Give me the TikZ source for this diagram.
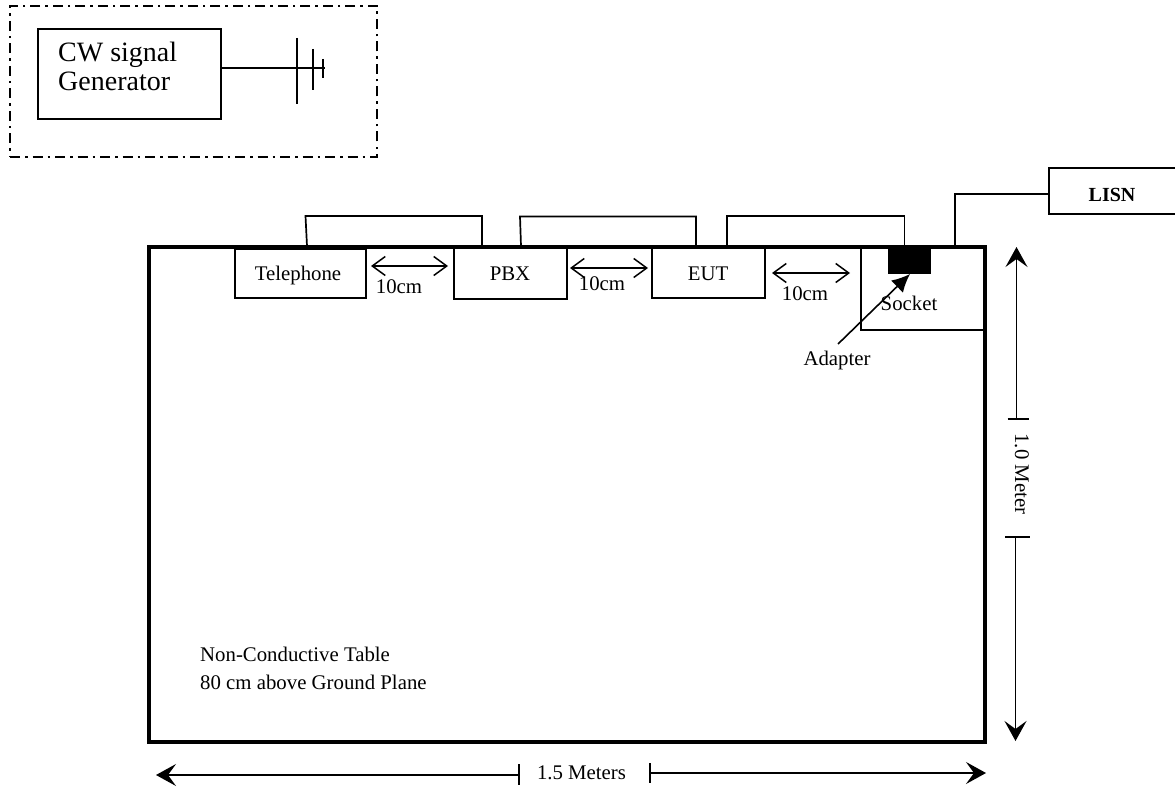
\documentclass[tikz,border=0pt]{standalone}
\usepackage{fontspec}
\setmainfont{Liberation Serif}
\usetikzlibrary{arrows.meta}
\tikzset{
  x=1pt,y=-1pt,
  wire/.style={line width=1.7pt},
  boxed/.style={draw,line width=1.9pt,anchor=north west,inner sep=0pt,outer sep=0pt},
  lab/.style={inner sep=0pt,font=\fontsize{20.8}{24}\selectfont},
  gap/.style={line width=1.4pt,{Straight Barb[length=13pt,width=19pt,line width=1.5pt]}-{Straight Barb[length=13pt,width=19pt,line width=1.5pt]}},
  dim/.style={line width=1.5pt,-{Stealth[length=20pt,width=22pt,inset=8pt]}},
  tick/.style={line width=1.6pt}
}
\begin{document}
\begin{tikzpicture}
\useasboundingbox (0,0) rectangle (1175,789);
% generator group
\node[boxed,line width=1.7pt,dash pattern=on 10pt off 5pt on 2.5pt off 5pt,minimum width=367pt,minimum height=151pt] (group) at (10,6) {};
\node[boxed,minimum width=183pt,minimum height=90pt] (gen) at (38,29) {};
\node[inner sep=0pt,anchor=base west,align=left,font=\fontsize{28}{29}\selectfont] (gentext) at (58,91) {CW signal\\Generator};
\coordinate (ant) at (325,68);
\draw[wire] (gen.east |- ant) -- (ant);
\coordinate (a1t) at (297,38); \coordinate (a1b) at (297,104);
\coordinate (a2t) at (313,49); \coordinate (a2b) at (313,90);
\coordinate (a3t) at (323,59); \coordinate (a3b) at (323,78);
\draw[wire] (a1t) -- (a1b) (a2t) -- (a2b) (a3t) -- (a3b);
% table
\node[boxed,line width=4pt,minimum width=836pt,minimum height=495pt] (table) at (148.5,246.5) {};
% devices
\node[boxed,minimum width=131pt,minimum height=49pt] (tel) at (235,249) {};
\node[lab] at (298,275) {Telephone};
\node[boxed,minimum width=113pt,minimum height=52pt] (pbx) at (454,247) {};
\node[lab] at (510,274) {PBX};
\node[boxed,minimum width=113pt,minimum height=51pt] (eut) at (652,247) {};
\node[lab] at (708,274) {EUT};
\node[boxed,minimum width=124pt,minimum height=83pt] (socket) at (861,247) {};
\node[lab] (sockettext) at (909,303) {Socket};
\node[fill=black,anchor=north west,minimum width=43pt,minimum height=27pt,inner sep=0pt,outer sep=0pt] (adapter) at (888,247) {};
\node[lab,anchor=base] (adaptertext) at (837,365) {Adapter};
\coordinate (adtail) at (838,344);
\coordinate (adtip) at (910,274);
\draw[line width=1.6pt,-{Latex[length=18pt,width=17pt]}] (adtail) -- (adtip);
% gaps
\coordinate (g1a) at (371,266); \coordinate (g1b) at (448,266);
\coordinate (g2a) at (570,268); \coordinate (g2b) at (648,268);
\coordinate (g3a) at (772,273); \coordinate (g3b) at (850,273);
\draw[gap] (g1a) -- (g1b);
\draw[gap] (g2a) -- (g2b);
\draw[gap] (g3a) -- (g3b);
\node[lab,anchor=base] at (399,293) {10cm};
\node[lab,anchor=base] at (602,290) {10cm};
\node[lab,anchor=base] at (805,300) {10cm};
% wires
\coordinate (w1a) at (307,246); \coordinate (w1b) at (305.5,216); \coordinate (w1c) at (482,216); \coordinate (w1d) at (482,247);
\coordinate (w2a) at (521,246); \coordinate (w2b) at (520,216.5); \coordinate (w2c) at (696,216.5); \coordinate (w2d) at (696,247);
\coordinate (w3a) at (727,248); \coordinate (w3b) at (727,216); \coordinate (w3c) at (904.5,216); \coordinate (w3d) at (904.5,247);
\draw[wire] (w1a) -- (w1b) -- (w1c) -- (w1d);
\draw[wire] (w2a) -- (w2b) -- (w2c) -- (w2d);
\draw[wire] (w3a) -- (w3b) -- (w3c) -- (w3d);
% LISN
\node[boxed,minimum width=140pt,minimum height=46pt] (lisn) at (1049,168) {};
\node[lab,font=\fontsize{20}{24}\selectfont\bfseries] at (1112,195) {LISN};
\coordinate (lw) at (955,246);
\draw[line width=1.8pt] (lw) |- (lisn.west |- 0,194);
% vertical dimension
\coordinate (v1) at (1016.5,419); \coordinate (v1t) at (1016.5,247);
\coordinate (v2) at (1015.5,537); \coordinate (v2t) at (1015.5,741);
\draw[dim] (v1) -- (v1t);
\draw[dim] (v2) -- (v2t);
\draw[tick] (1007.5,419) -- (1029,419);
\draw[tick] (1005,537) -- (1030,537);
\node[lab,rotate=-90] at (1022,474) {1.0 Meter};
% horizontal dimension
\coordinate (h1) at (519,775); \coordinate (h1t) at (156,775);
\coordinate (h2) at (650,773); \coordinate (h2t) at (986,773);
\draw[dim] (h1) -- (h1t);
\draw[dim] (h2) -- (h2t);
\draw[tick] (519,764) -- (519,785);
\draw[tick] (650,763) -- (650,783);
\node[lab] at (581.5,773) {1.5 Meters};
% note
\node[lab,anchor=base west] at (200,661) {Non-Conductive Table};
\node[lab,anchor=base west] at (200,689) {80 cm above Ground Plane};
\end{tikzpicture}
\end{document}
